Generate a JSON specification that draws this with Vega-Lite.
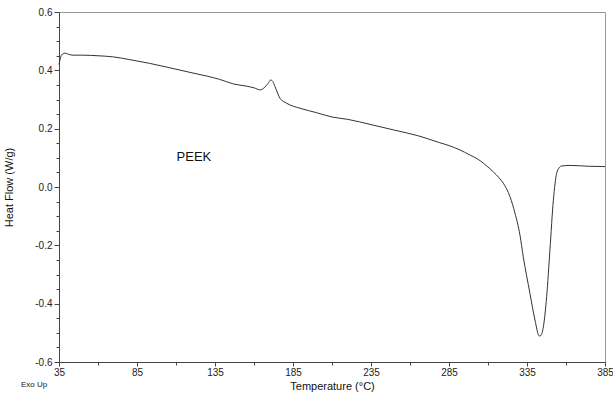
{
  "$schema": "https://vega.github.io/schema/vega-lite/v6.json",
  "width": 546,
  "height": 350,
  "autosize": {"type": "none"},
  "padding": {"left": 59, "top": 12, "right": 8, "bottom": 36},
  "background": "white",
  "config": {
    "view": {"stroke": "#9a9a9a", "strokeWidth": 1},
    "font": "Liberation Sans",
    "axis": {
      "domainColor": "#444", "tickColor": "#444", "labelColor": "#222", "titleColor": "#111",
      "labelFont": "Liberation Sans", "titleFont": "Liberation Sans", "titleFontWeight": "normal",
      "grid": false, "labelFontSize": 10, "titleFontSize": 11
    }
  },
  "datasets": {
    "curve": [
      {"T": 35, "HF": 0.42}, {"T": 35.8, "HF": 0.44}, {"T": 37, "HF": 0.455}, {"T": 39, "HF": 0.459},
      {"T": 41, "HF": 0.455}, {"T": 44, "HF": 0.452}, {"T": 50, "HF": 0.452}, {"T": 60, "HF": 0.45},
      {"T": 70, "HF": 0.446}, {"T": 80, "HF": 0.437}, {"T": 93, "HF": 0.424}, {"T": 105, "HF": 0.41},
      {"T": 119, "HF": 0.393}, {"T": 130, "HF": 0.38}, {"T": 138, "HF": 0.369}, {"T": 147, "HF": 0.353},
      {"T": 155, "HF": 0.346}, {"T": 160, "HF": 0.34}, {"T": 164, "HF": 0.333}, {"T": 166.5, "HF": 0.34},
      {"T": 169, "HF": 0.355}, {"T": 170.7, "HF": 0.367}, {"T": 172, "HF": 0.362}, {"T": 173.5, "HF": 0.344},
      {"T": 176.7, "HF": 0.304}, {"T": 181, "HF": 0.287}, {"T": 189.5, "HF": 0.27}, {"T": 200, "HF": 0.255},
      {"T": 210, "HF": 0.24}, {"T": 220, "HF": 0.232}, {"T": 235, "HF": 0.214}, {"T": 250, "HF": 0.195},
      {"T": 265, "HF": 0.176}, {"T": 279, "HF": 0.152}, {"T": 285, "HF": 0.142}, {"T": 292, "HF": 0.127},
      {"T": 298, "HF": 0.111}, {"T": 305, "HF": 0.09}, {"T": 309, "HF": 0.073}, {"T": 313.4, "HF": 0.052},
      {"T": 317, "HF": 0.032}, {"T": 319.8, "HF": 0.013}, {"T": 324.1, "HF": -0.033}, {"T": 327.3, "HF": -0.09},
      {"T": 330.5, "HF": -0.165}, {"T": 332.6, "HF": -0.239}, {"T": 336.9, "HF": -0.365}, {"T": 340.1, "HF": -0.456},
      {"T": 342.9, "HF": -0.511}, {"T": 344, "HF": -0.508}, {"T": 345.5, "HF": -0.479}, {"T": 347.6, "HF": -0.376},
      {"T": 349.7, "HF": -0.216}, {"T": 351.9, "HF": -0.045}, {"T": 354, "HF": 0.047}, {"T": 355.5, "HF": 0.065},
      {"T": 357.2, "HF": 0.072}, {"T": 362.6, "HF": 0.074}, {"T": 375, "HF": 0.071}, {"T": 385, "HF": 0.07}
    ],
    "labels": [
      {"T": 121.5, "HF": 0.103, "label": "PEEK"}
    ],
    "corner": [
      {"T": 35, "HF": -0.6, "label": "Exo Up"}
    ]
  },
  "resolve": {"axis": {"x": "independent", "y": "independent"}},
  "layer": [
    {
      "data": {"name": "curve"},
      "mark": {"type": "line", "color": "#333", "strokeWidth": 1, "interpolate": "monotone"},
      "encoding": {
        "x": {"field": "T", "type": "quantitative",
              "scale": {"domain": [35, 385], "nice": false, "zero": false},
              "axis": {"orient": "bottom", "values": [35, 85, 135, 185, 235, 285, 335, 385], "tickSize": 4, "labelPadding": 1,
                       "title": "Temperature (°C)", "titlePadding": 3, "labelFlush": false}},
        "y": {"field": "HF", "type": "quantitative",
              "scale": {"domain": [-0.6, 0.6], "nice": false, "zero": false},
              "axis": {"orient": "left", "values": [-0.6, -0.4, -0.2, 0, 0.2, 0.4, 0.6], "tickSize": 5, "labelPadding": 2,
                       "labelExpr": "replace(format(datum.value, '.1f'), '\u2212', '-')",
                       "title": "Heat Flow (W/g)", "titleX": -45, "labelFlush": false}}
      }
    },
    {
      "data": {"name": "curve"},
      "mark": {"type": "point", "opacity": 0},
      "encoding": {
        "x": {"field": "T", "type": "quantitative",
              "axis": {"orient": "bottom", "values": [60, 110, 160, 210, 260, 310, 360], "tickSize": 3, "labels": false, "domain": false, "title": null}},
        "y": {"field": "HF", "type": "quantitative",
              "axis": {"orient": "left", "values": [-0.55, -0.5, -0.45, -0.35, -0.3, -0.25, -0.15, -0.1, -0.05, 0.05, 0.1, 0.15, 0.25, 0.3, 0.35, 0.45, 0.5, 0.55], "tickSize": 3, "labels": false, "domain": false, "title": null}}
      }
    },
    {
      "data": {"name": "labels"},
      "mark": {"type": "text", "fontSize": 13, "align": "center", "baseline": "middle", "color": "#111"},
      "encoding": {
        "x": {"field": "T", "type": "quantitative", "axis": null},
        "y": {"field": "HF", "type": "quantitative", "axis": null},
        "text": {"field": "label"}
      }
    },
    {
      "data": {"name": "corner"},
      "mark": {"type": "text", "fontSize": 8, "align": "center", "baseline": "middle", "color": "#222", "dx": -25, "dy": 23},
      "encoding": {
        "x": {"field": "T", "type": "quantitative", "axis": null},
        "y": {"field": "HF", "type": "quantitative", "axis": null},
        "text": {"field": "label"}
      }
    }
  ]
}
